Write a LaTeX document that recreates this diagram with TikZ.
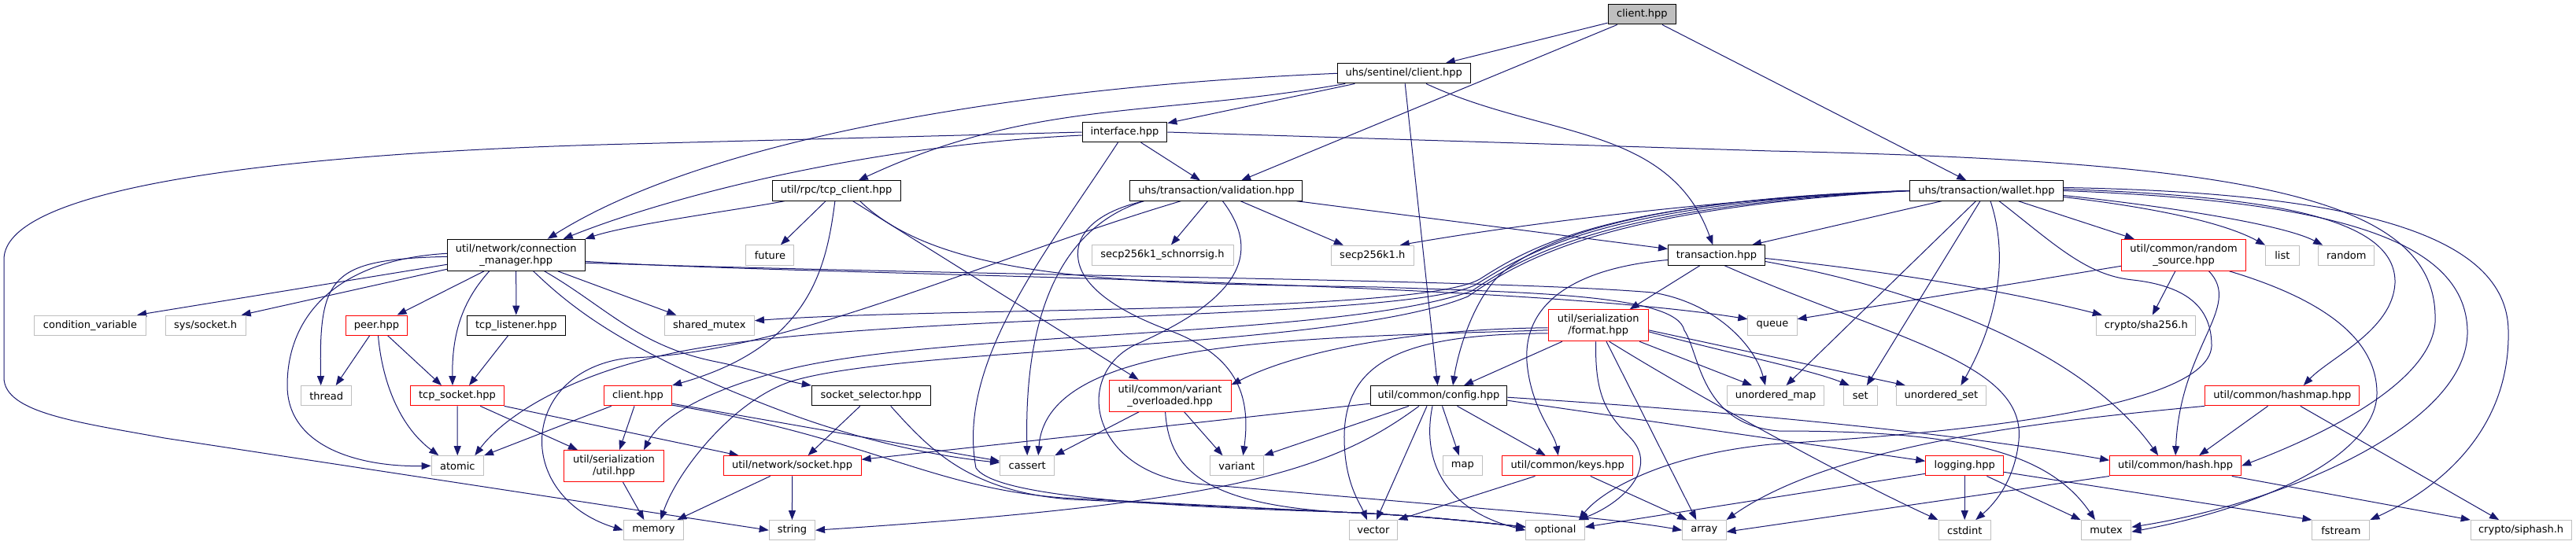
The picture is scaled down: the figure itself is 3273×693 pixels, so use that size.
\documentclass[tikz,border=0pt]{standalone}
\usepackage{fontspec}
\setmainfont{DejaVu Sans}
\usetikzlibrary{arrows.meta}
\definecolor{mblue}{HTML}{191970}
\definecolor{gseventy}{HTML}{BFBFBF}
\pgfdeclarelayer{bg}
\pgfdeclarelayer{edges}
\pgfsetlayers{bg,edges,main}
\newcommand\dxfont{\fontsize{13}{15}\selectfont}
\begin{document}
\begin{tikzpicture}[x=1pt,y=-1pt,
  bx/.style={rectangle, draw, line width=1pt, fill=white, inner sep=0pt, minimum height=25.3pt, align=center, font=\dxfont},
  nb/.style={bx, draw=black},
  nr/.style={bx, draw=red},
  ng/.style={bx, draw=gseventy},
  nt/.style={bx, draw=black, fill=gseventy},
  two/.style={minimum height=40pt},
  ed/.style={draw=mblue, line width=1pt, -{Triangle[length=12pt,width=9pt]}}
]
\useasboundingbox (0,0) rectangle (3273,693);
\begin{pgfonlayer}{bg}
\fill[white] (0,0) rectangle (3273,693);
\end{pgfonlayer}

\node[nt, minimum width=86.8pt] (ntop) at (2086.4,18.3) {client.hpp};
\node[nb, minimum width=169pt] (sentinel) at (1783.8,93.3) {uhs/sentinel/client.hpp};
\node[nb, minimum width=107.7pt] (interface) at (1429,168) {interface.hpp};
\node[nb, minimum width=163pt] (tcpclient) at (1062.6,242.5) {util/rpc/tcp\_client.hpp};
\node[nb, minimum width=219pt] (validation) at (1545.4,242.5) {uhs/transaction/validation.hpp};
\node[nb, minimum width=195pt] (wallet) at (2524,242.5) {uhs/transaction/wallet.hpp};
\node[nb, two, minimum width=174.6pt] (cm) at (655.7,324.3) {util/network/connection\\\_manager.hpp};
\node[ng, minimum width=61pt] (future) at (978.4,324.5) {future};
\node[ng, minimum width=180pt] (schnorr) at (1477,324.5) {secp256k1\_schnorrsig.h};
\node[ng, minimum width=104.6pt] (secp) at (1743.8,324.8) {secp256k1.h};
\node[nb, minimum width=123pt] (transaction) at (2181,324.5) {transaction.hpp};
\node[nr, two, minimum width=158.3pt] (rsrc) at (2774.5,324.3) {util/common/random\\\_source.hpp};
\node[ng, minimum width=42.4pt] (nlist) at (2899.8,324.8) {list};
\node[ng, minimum width=71.3pt] (nrandom) at (2981.2,324.8) {random};
\node[ng, minimum width=142.3pt] (condvar) at (114.5,413.7) {condition\_variable};
\node[ng, minimum width=102pt] (sockh) at (261.2,413.7) {sys/socket.h};
\node[nr, minimum width=78.4pt] (peer) at (478.5,413.7) {peer.hpp};
\node[nb, minimum width=125.5pt] (listener) at (655.8,413.7) {tcp\_listener.hpp};
\node[ng, minimum width=114.3pt] (sharedm) at (901.3,413.7) {shared\_mutex};
\node[nr, two, minimum width=127.1pt] (format) at (2030.7,413.8) {util/serialization\\/format.hpp};
\node[ng, minimum width=62.2pt] (queue) at (2251.9,413.7) {queue};
\node[ng, minimum width=126.2pt] (sha) at (2726.8,413.7) {crypto/sha256.h};
\node[ng, minimum width=63.8pt] (thread) at (414.7,503.2) {thread};
\node[nr, minimum width=118.2pt] (tcpsock) at (581,503.2) {tcp\_socket.hpp};
\node[nr, minimum width=86.2pt] (rpcclient) at (810.5,503.2) {client.hpp};
\node[nb, minimum width=150.8pt] (socksel) at (1106.7,503.2) {socket\_selector.hpp};
\node[nr, two, minimum width=154.8pt] (varov) at (1486.6,503.3) {util/common/variant\\\_overloaded.hpp};
\node[nb, minimum width=173.6pt] (config) at (1828,503.2) {util/common/config.hpp};
\node[ng, minimum width=122.9pt] (umap) at (2256,503.2) {unordered\_map};
\node[ng, minimum width=42.4pt] (nset) at (2363.8,503.2) {set};
\node[ng, minimum width=113.9pt] (uset) at (2466.4,503.2) {unordered\_set};
\node[nr, minimum width=195.8pt] (hashmap) at (2899.8,503.2) {util/common/hashmap.hpp};
\node[ng, minimum width=66.4pt] (atomic) at (581.3,592.3) {atomic};
\node[nr, two, minimum width=126.5pt] (utilhpp) at (780,592.6) {util/serialization\\/util.hpp};
\node[nr, minimum width=175pt] (socket) at (1006.6,592.3) {util/network/socket.hpp};
\node[ng, minimum width=69pt] (cassert) at (1305.2,592.3) {cassert};
\node[ng, minimum width=68pt] (variant) at (1571.4,592.3) {variant};
\node[ng, minimum width=50.2pt] (nmap) at (1858.3,592.3) {map};
\node[nr, minimum width=166.3pt] (keys) at (1991.7,592.3) {util/common/keys.hpp};
\node[nr, minimum width=99pt] (logging) at (2496.2,592.3) {logging.hpp};
\node[nr, minimum width=167pt] (hash) at (2764.1,592.3) {util/common/hash.hpp};
\node[ng, minimum width=76.6pt] (memory) at (830.4,674.2) {memory};
\node[ng, minimum width=58.3pt] (nstring) at (1006.4,674.2) {string};
\node[ng, minimum width=61.7pt] (vector) at (1744.9,674.2) {vector};
\node[ng, minimum width=74.2pt] (optional) at (1976,674.2) {optional};
\node[ng, minimum width=55.4pt] (narray) at (2165.3,674.2) {array};
\node[ng, minimum width=66.4pt] (cstdint) at (2496.2,674.2) {cstdint};
\node[ng, minimum width=63.7pt] (mutex) at (2676,674.2) {mutex};
\node[ng, minimum width=72.9pt] (fstream) at (2974.4,674.2) {fstream};
\node[ng, minimum width=127.8pt] (siphash) at (3203.1,674.2) {crypto/siphash.h};

\begin{pgfonlayer}{edges}
% top
\draw[ed] (ntop) -- (sentinel);
\draw[ed] (ntop) -- (validation);
\draw[ed] (ntop) -- (wallet);
% sentinel
\draw[ed] (sentinel.west) .. controls (1300,110) and (900,175) .. ([xshift=40pt]cm.north);
\draw[ed] (sentinel) -- (interface);
\draw[ed] (sentinel) to[out=190,in=25] (tcpclient);
\draw[ed] (sentinel) -- (config);
\draw[ed] (sentinel) to[out=-25,in=110] (transaction);
% interface
\draw[ed] (interface.west) -- (800,183) .. controls (400,193) and (5,232) .. (5,330) -- (5,480) .. controls (5,525) and (100,537) .. (209,557) -- (nstring.west);
\draw[ed] ([yshift=-4pt]interface.west) .. controls (1100,185) and (850,250) .. ([xshift=60pt]cm.north);
\draw[ed] (interface) -- (validation);
\draw[ed] (interface) .. controls (1330,320) and (1215,460) .. (1240,595) .. controls (1260,625) and (1400,642) .. (1700,651) .. controls (1800,655) and (1880,664) .. ([yshift=4pt]optional.west);
\draw[ed] (interface.east) -- (2250,192) .. controls (2850,205) and (3090,250) .. (3094,400) .. controls (3100,480) and (2960,550) .. (hash.east);
% tcp client
\draw[ed] (tcpclient) .. controls (950,265) and (800,285) .. (cm.north east);
\draw[ed] (tcpclient) -- (future);
\draw[ed] (tcpclient) .. controls (1050,340) and (1030,440) .. (rpcclient.north east);
\draw[ed] (tcpclient) -- ([xshift=-40pt]varov.north);
\draw[ed] ([xshift=30pt]tcpclient.south) .. controls (1200,360) and (1450,360) .. (1750,365) .. controls (1950,372) and (2130,375) .. (2140,420) .. controls (2160,450) and (2160,540) .. (2260,548) .. controls (2480,548) and (2600,570) .. ([xshift=-14pt]mutex.north);
% validation
\draw[ed] (validation) -- ([yshift=8pt]transaction.west);
\draw[ed] (validation) -- (schnorr);
\draw[ed] (validation) -- ([xshift=-37pt]secp.north);
\draw[ed] ([xshift=-92pt]validation.south) .. controls (1360,285) and (1300,380) .. (cassert.north);
\draw[ed] ([xshift=-92pt]validation.south) .. controls (1390,270) and (1365,300) .. (1370,330) .. controls (1375,365) and (1420,395) .. (1480,418) .. controls (1570,450) and (1590,500) .. ([xshift=8pt]variant.north);
\draw[ed] ([xshift=8pt]validation.south) .. controls (1610,330) and (1560,385) .. (1450,435) .. controls (1360,470) and (1380,605) .. (1530,616) -- (1900,648) .. controls (2000,656) and (2080,664) .. (narray.west);
\draw[ed] ([xshift=-45pt]validation.south) .. controls (1250,330) and (1000,450) .. (800,455) .. controls (660,470) and (650,630) .. (memory.west);
% wallet
\draw[ed] (wallet) -- ([xshift=45pt]transaction.north);
\draw[ed] (wallet.west) .. controls (2200,252) and (1950,282) .. ([xshift=35pt]secp.north);
\draw[ed] (wallet.west) .. controls (2100,252) and (1960,300) .. (1905,350) .. controls (1870,385) and (1852,450) .. ([xshift=18pt]config.north);
\draw[ed] (wallet.west) .. controls (2050,255) and (1950,310) .. (1880,355) .. controls (1800,400) and (1200,390) .. ([yshift=6pt]sharedm.east);
\draw[ed] (wallet.west) .. controls (2050,258) and (1950,315) .. (1875,362) .. controls (1780,410) and (1100,395) .. (850,450) .. controls (720,478) and (640,530) .. ([xshift=22pt]atomic.north);
\draw[ed] (wallet.west) .. controls (2050,262) and (1945,320) .. (1870,370) .. controls (1700,430) and (1200,420) .. (1000,470) .. controls (900,495) and (840,530) .. ([xshift=38pt]utilhpp.north);
\draw[ed] (wallet.west) .. controls (2050,265) and (1940,325) .. (1865,377) .. controls (1700,445) and (1150,440) .. (1005,485) .. controls (930,510) and (860,600) .. ([xshift=9pt]memory.north);
\draw[ed] ([xshift=16pt]wallet.south) .. controls (2610,310) and (2650,350) .. (2710,356) .. controls (2790,365) and (2810,400) .. (2810,440) .. controls (2805,530) and (2400,555) .. (2250,565) .. controls (2100,580) and (2030,630) .. ([xshift=30pt]optional.north);
\draw[ed] (wallet) -- (umap);
\draw[ed] (wallet) -- (nset);
\draw[ed] ([xshift=5pt]wallet.south) .. controls (2560,350) and (2520,440) .. ([xshift=25pt]uset.north);
\draw[ed] (wallet) -- (rsrc);
\draw[ed] ([yshift=-8pt]wallet.east) .. controls (2720,262) and (2820,280) .. (nlist.north west);
\draw[ed] ([yshift=-6pt]wallet.east) .. controls (2750,262) and (2900,285) .. ([xshift=-30pt]nrandom.north);
\draw[ed] ([yshift=2pt]wallet.east) .. controls (2900,250) and (3045,280) .. (3043,360) .. controls (3040,420) and (2960,455) .. ([xshift=27pt]hashmap.north);
\draw[ed] (wallet.east) .. controls (2950,255) and (3132,300) .. (3135,420) .. controls (3138,540) and (2900,640) .. ([yshift=4pt]mutex.east);
\draw[ed] ([yshift=4pt]wallet.east) .. controls (3000,245) and (3185,300) .. (3187,420) .. controls (3190,560) and (3080,630) .. (fstream.north east);
% transaction
\draw[ed] (transaction) -- ([xshift=40pt]format.north);
\draw[ed] ([yshift=-6pt]transaction.west) .. controls (2010,340) and (1935,380) .. (1940,460) .. controls (1945,520) and (1975,550) .. ([xshift=-12pt]keys.north);
\draw[ed] ([yshift=-4pt]transaction.east) .. controls (2400,345) and (2550,370) .. ([xshift=-56pt]sha.north);
\draw[ed] ([yshift=-8pt]transaction.east) .. controls (2450,370) and (2650,450) .. ([xshift=-22pt]hash.north);
\draw[ed] ([xshift=10pt]transaction.south) .. controls (2400,430) and (2575,460) .. (2565,560) .. controls (2560,610) and (2535,640) .. ([xshift=14pt]cstdint.north);
% format
\draw[ed] (format) -- ([xshift=32pt]config.north);
\draw[ed] ([yshift=-3pt]format.west) .. controls (1800,418) and (1650,445) .. ([yshift=14pt]varov.east);
\draw[ed] ([yshift=-6pt]format.west) .. controls (1650,430) and (1330,430) .. ([xshift=14pt]cassert.north);
\draw[ed] ([yshift=-10pt]format.west) .. controls (1790,425) and (1706,455) .. (1708,560) .. controls (1709,615) and (1728,640) .. ([xshift=-8pt]vector.north);
\draw[ed] ([xshift=-3pt]format.south) .. controls (2026,500) and (2040,525) .. (2070,555) .. controls (2110,595) and (2060,640) .. ([xshift=30pt]optional.north);
\draw[ed] (format) -- ([xshift=-10pt]narray.north);
\draw[ed] ([xshift=14pt]format.south) .. controls (2150,500) and (2350,610) .. (cstdint.north west);
\draw[ed] (format) -- ([xshift=-30pt]umap.north);
\draw[ed] ([yshift=-8pt]format.east) .. controls (2200,450) and (2300,470) .. ([xshift=-14pt]nset.north);
\draw[ed] ([yshift=-6pt]format.east) -- ([xshift=12pt]uset.north west);
% config
\draw[ed] ([yshift=-10pt]config.west) -- ([yshift=8pt]socket.east);
\draw[ed] ([xshift=-38pt]config.south) -- (variant.north east);
\draw[ed] ([xshift=-25pt]config.south) .. controls (1690,600) and (1560,640) .. (nstring.east);
\draw[ed] ([xshift=-15pt]config.south) -- ([xshift=4pt]vector.north);
\draw[ed] ([xshift=-8pt]config.south) .. controls (1805,590) and (1840,650) .. (optional.west);
\draw[ed] (config) -- (nmap);
\draw[ed] (config) -- ([xshift=-28pt]keys.north);
\draw[ed] ([yshift=-6pt]config.east) -- ([yshift=6pt]logging.west);
\draw[ed] ([yshift=-2pt]config.east) .. controls (2150,520) and (2450,545) .. ([yshift=7pt]hash.west);
% keys
\draw[ed] (keys) -- (vector.north east);
\draw[ed] (keys) -- ([xshift=-22pt]narray.north);
% logging
\draw[ed] (logging) -- (cstdint);
\draw[ed] (logging) -- (mutex.north west);
\draw[ed] ([yshift=-8pt]logging.east) -- (fstream.north west);
\draw[ed] ([yshift=-10pt]logging.west) -- ([yshift=4pt]optional.east);
% hash
\draw[ed] (hash.south west) -- ([yshift=-2pt]narray.east);
\draw[ed] (hash) -- (siphash.north west);
% hashmap
\draw[ed] (hashmap) -- ([xshift=30pt]hash.north);
\draw[ed] (hashmap) -- ([xshift=-28pt]siphash.north);
\draw[ed] (hashmap.south west) .. controls (2600,535) and (2330,565) .. (narray.north east);
% random source
\draw[ed] ([yshift=-14pt]rsrc.west) -- ([yshift=8pt]queue.east);
\draw[ed] (rsrc) -- ([xshift=8pt]sha.north);
\draw[ed] ([xshift=32pt]rsrc.south) .. controls (2850,390) and (2770,440) .. (hash.north);
\draw[ed] ([xshift=58pt]rsrc.south) .. controls (2950,380) and (3020,430) .. (3020,500) .. controls (3020,570) and (2900,640) .. ([yshift=-2pt]mutex.east);
% connection manager
\draw[ed] ([yshift=-12pt]cm.west) -- ([xshift=-12pt]condvar.north east);
\draw[ed] ([yshift=-18pt]cm.west) -- ([xshift=-6pt]sockh.north east);
\draw[ed] ([yshift=-2pt]cm.west) .. controls (420,330) and (405,350) .. ([xshift=-7pt]thread.north);
\draw[ed] ([yshift=2pt]cm.west) .. controls (430,330) and (365,400) .. (365,490) .. controls (365,570) and (460,594) .. (atomic.west);
\draw[ed] (cm) -- (peer);
\draw[ed] ([xshift=-34pt]cm.south) .. controls (590,380) and (574,420) .. ([xshift=-6pt]tcpsock.north);
\draw[ed] (cm) -- (listener);
\draw[ed] ([xshift=22pt]cm.south) .. controls (730,395) and (800,450) .. (1000,525) .. controls (1100,562) and (1190,580) .. ([yshift=4pt]cassert.west);
\draw[ed] ([xshift=36pt]cm.south) .. controls (770,390) and (810,440) .. (910,460) .. controls (960,470) and (1000,485) .. (socksel.north west);
\draw[ed] ([xshift=53pt]cm.south) -- ([xshift=-42pt]sharedm.north);
\draw[ed] ([yshift=-8pt]cm.east) .. controls (1000,350) and (1900,355) .. ([yshift=8pt]queue.west);
\draw[ed] ([yshift=-10pt]cm.east) .. controls (1300,352) and (1900,355) .. (2100,372) .. controls (2180,385) and (2230,440) .. ([xshift=-13pt]umap.north);
% peer, listener
\draw[ed] (peer) -- ([xshift=12pt]thread.north);
\draw[ed] (peer) -- ([xshift=-20pt]tcpsock.north);
\draw[ed] ([xshift=2pt]peer.south) .. controls (485,480) and (505,540) .. ([xshift=-24pt]atomic.north);
\draw[ed] (listener) -- ([xshift=15pt]tcpsock.north);
% tcp socket
\draw[ed] (tcpsock) -- (atomic);
\draw[ed] (tcpsock) -- ([xshift=-46pt]utilhpp.north);
\draw[ed] (tcpsock.south east) -- ([xshift=-68pt]socket.north);
% rpc client
\draw[ed] (rpcclient) -- (atomic.north east);
\draw[ed] (rpcclient) -- ([xshift=7pt]utilhpp.north);
\draw[ed] ([yshift=-10pt]rpcclient.east) -- ([yshift=6pt]cassert.west);
\draw[ed] ([yshift=-12pt]rpcclient.east) .. controls (1100,555) and (1180,620) .. (1350,633) -- (1700,651) .. controls (1800,655) and (1880,664) .. ([yshift=4pt]optional.west);
% socket selector
\draw[ed] (socksel) -- ([xshift=20pt]socket.north);
\draw[ed] ([xshift=25pt]socksel.south) .. controls (1180,570) and (1230,625) .. (1360,635) -- (1700,651) .. controls (1800,655) and (1880,664) .. ([yshift=4pt]optional.west);
% variant overloaded
\draw[ed] (varov) -- (cassert.north east);
\draw[ed] (varov) -- ([xshift=-18pt]variant.north);
\draw[ed] ([xshift=-6pt]varov.south) .. controls (1485,590) and (1520,640) .. (1700,651) .. controls (1800,655) and (1880,664) .. ([yshift=4pt]optional.west);
% util, socket
\draw[ed] (utilhpp) -- ([xshift=-12pt]memory.north);
\draw[ed] (socket) -- ([xshift=30pt]memory.north);
\draw[ed] (socket) -- (nstring);
\end{pgfonlayer}
\end{tikzpicture}
\end{document}
